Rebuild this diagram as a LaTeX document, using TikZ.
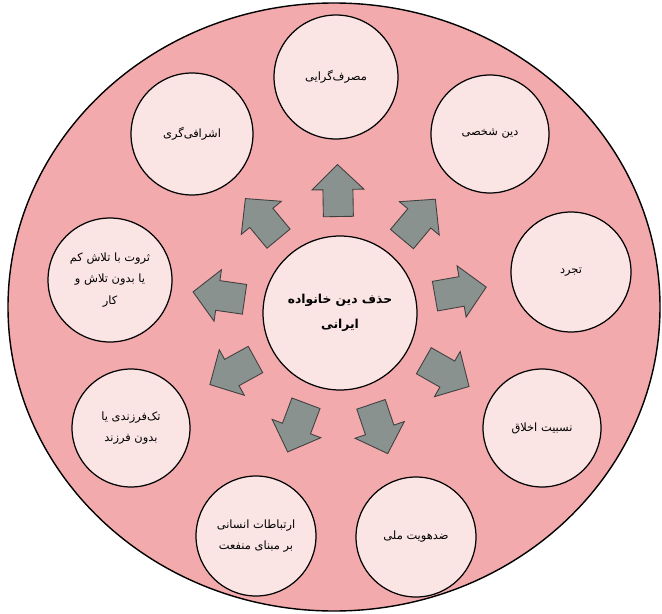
\documentclass[tikz,border=0pt]{standalone}
\usepackage{fontspec}
\newfontfamily\fafont[Script=Arabic]{DejaVu Sans}
\TeXXeTstate=1
\usetikzlibrary{calc}
\definecolor{outerpink}{RGB}{242,170,172}
\definecolor{innerpink}{RGB}{250,228,228}
\definecolor{arrowgray}{RGB}{138,146,143}
\newcommand{\fa}[1]{\beginR #1\endR}
\tikzset{
  bubble/.style={circle, draw=black, line width=0.7pt, fill=innerpink, inner sep=0pt,
    align=center, font=\fafont\fontsize{6.5}{12}\selectfont},
  hubstyle/.style={bubble, font=\fafont\bfseries\fontsize{7}{14}\selectfont},
  blockarrow/.style={draw=black!75, line width=0.5pt, fill=arrowgray, line join=miter},
  blockarr/.pic={\path[blockarrow] (-26,-15) -- (1,-15) -- (1,-26) -- (26,0) -- (1,26) -- (1,15) -- (-26,15) -- cycle;}
}
\begin{document}
\begin{tikzpicture}[x=0.02cm,y=0.02cm]
\useasboundingbox (0,0) rectangle (662,613);
\draw[fill=outerpink, line width=0.8pt] (334,306) ellipse [x radius=326, y radius=304];
\node[hubstyle, minimum size=3.08cm] (c) at (340,300) {\fa{حذف دین خانواده}\\\fa{ایرانی}};
\node[bubble, minimum size=2.48cm] (o1) at (336,536) {\fa{مصرف‌گرایی}};
\node[bubble, minimum size=2.36cm] (o2) at (490,479) {\fa{دین شخصی}};
\node[bubble, minimum size=2.4cm] (o3) at (571,341) {\fa{تجرد}};
\node[bubble, minimum size=2.36cm] (o4) at (542,185) {\fa{نسبیت اخلاق}};
\node[bubble, minimum size=2.4cm] (o5) at (416,76) {\fa{ضدهویت ملی}};
\node[bubble, minimum size=2.4cm] (o6) at (256,77) {\fa{ارتباطات انسانی}\\\fa{بر مبنای منفعت}};
\node[bubble, minimum size=2.36cm] (o7) at (131,185) {\fa{تک‌فرزندی یا}\\\fa{بدون فرزند}};
\node[bubble, minimum size=2.48cm] (o8) at (110,333) {\fa{ثروت با تلاش کم}\\\fa{یا بدون تلاش و}\\\fa{کار}};
\node[bubble, minimum size=2.44cm] (o9) at (192,479) {\fa{اشرافی‌گری}};
\foreach \o in {o1,o2,o3,o4,o5,o6,o7,o8,o9}{
  \path let \p1=($(\o)-(c)$), \n1={atan2(\y1,\x1)} in
    ($(c)!2.45cm!(\o)$) pic[rotate=\n1]{blockarr};
}
\end{tikzpicture}
\end{document}
